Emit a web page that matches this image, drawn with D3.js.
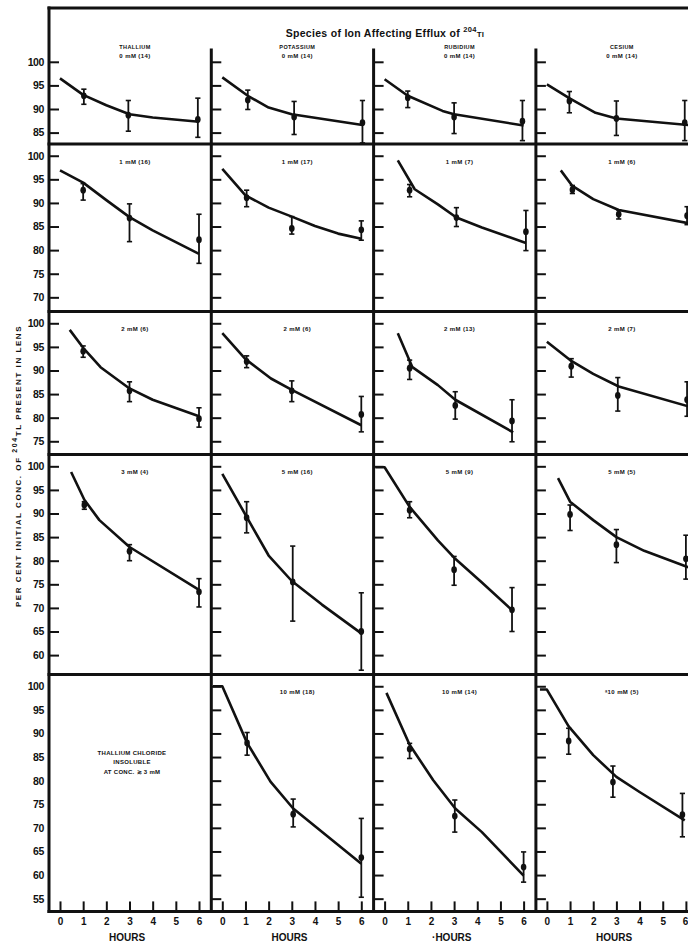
<!DOCTYPE html>
<html>
<head>
<meta charset="utf-8">
<script src="https://cdn.jsdelivr.net/npm/d3@7"></script>
<style>
body { margin: 0; background: #fff; }
svg { display: block; background: #fff; }
text { font-family: "Liberation Sans", Arial, sans-serif; font-weight: bold; fill: #111; }
.frame { stroke: #111; stroke-width: 3; stroke-linecap: square; }
.tick line { stroke: #111; stroke-width: 2; }
</style>
</head>
<body>
<svg id="chart"></svg>
<script>
// ---- data ----
const ions = ['THALLIUM', 'POTASSIUM', 'RUBIDIUM', 'CESIUM'];
const hourTicks = [0, 1, 2, 3, 4, 5, 6];

// one entry per row of panels (top to bottom)
const rowTicks = [
	[100, 95, 90, 85],
	[100, 95, 90, 85, 80, 75, 70],
	[100, 95, 90, 85, 80, 75],
	[100, 95, 90, 85, 80, 75, 70, 65, 60],
	[100, 95, 90, 85, 80, 75, 70, 65, 60, 55]
];
const rowLow = [82.6, 67, 72.2, 55.9, 52.3];
const rowHigh = 102.5;

// panels row by row, 4 per row; row 5 col 1 has no data
const panelLabels = [
	'0 mM (14)', '0 mM (14)', '0 mM (14)', '0 mM (14)',
	'1 mM (16)', '1 mM (17)', '1 mM (7)', '1 mM (6)',
	'2 mM (6)', '2 mM (6)', '2 mM (13)', '2 mM (7)',
	'3 mM (4)', '5 mM (16)', '5 mM (9)', '5 mM (5)',
	null, '10 mM (18)', '10 mM (14)', 'ᵃ10 mM (5)'
];
const noteLines = ['THALLIUM CHLORIDE', 'INSOLUBLE', 'AT CONC. ≳ 3 mM'];

const pointHours = [
	[1.03, 2.95, 5.95], [1.1, 3.1, 6.05], [1.0, 3.0, 5.95], [0.97, 3.0, 5.95],
	[1.0, 3.0, 6.0], [1.05, 3.0, 6.0], [1.08, 3.1, 6.1], [1.1, 3.1, 6.05],
	[1.0, 3.0, 6.0], [1.05, 3.0, 6.0], [1.08, 3.05, 5.5], [1.05, 3.06, 6.05],
	[1.05, 3.0, 6.0], [1.05, 3.04, 6.0], [1.08, 3.0, 5.5], [1.0, 3.0, 6.0],
	null, [1.07, 3.06, 6.0], [1.08, 3.03, 6.0], [0.94, 2.85, 5.85]
];
const pointMeans = [
	[92.8, 88.7, 87.8], [91.9, 88.3, 87.1], [92.4, 88.3, 87.4], [91.7, 88.0, 87.1],
	[92.7, 86.8, 82.2], [91.1, 84.6, 84.3], [92.7, 86.9, 83.9], [92.8, 87.6, 87.3],
	[94.1, 85.7, 79.8], [91.9, 85.7, 80.7], [90.5, 82.6, 79.3], [90.9, 84.7, 83.8],
	[91.8, 82.0, 73.4], [89.1, 75.5, 65.0], [90.7, 78.1, 69.6], [89.8, 83.4, 80.4],
	null, [88.0, 72.9, 63.7], [86.7, 72.5, 61.7], [88.4, 79.7, 72.8]
];
const errLow = [
	[91.0, 85.3, 84.0], [89.9, 84.6, 82.8], [90.3, 84.8, 83.3], [89.2, 84.4, 83.3],
	[90.6, 81.8, 77.2], [89.2, 83.4, 82.1], [91.3, 85.0, 79.9], [92.0, 86.6, 85.4],
	[92.8, 83.4, 78.0], [90.6, 83.4, 77.0], [88.1, 79.7, 74.9], [88.6, 81.4, 80.3],
	[90.9, 80.0, 70.2], [85.9, 67.2, 56.8], [89.1, 74.8, 65.0], [86.4, 79.6, 76.1],
	null, [85.4, 70.2, 55.3], [84.7, 69.1, 58.5], [85.6, 76.5, 68.1]
];
const errHigh = [
	[94.2, 91.8, 92.3], [94.0, 91.6, 91.8], [93.8, 91.3, 91.8], [93.7, 91.7, 91.8],
	[94.1, 89.8, 87.6], [92.7, 87.1, 86.2], [93.9, 89.0, 88.4], [93.7, 88.5, 89.2],
	[95.2, 87.6, 82.1], [93.1, 87.8, 84.5], [92.2, 85.5, 83.8], [92.5, 88.5, 87.6],
	[92.5, 83.4, 76.2], [92.5, 83.1, 73.2], [92.5, 80.9, 74.3], [91.8, 86.6, 85.4],
	null, [90.2, 76.1, 72.0], [87.9, 75.9, 64.9], [91.1, 83.1, 77.3]
];

// fitted curves
const curveHours = [
	[0, 1, 2, 3, 4, 6], [0, 1.1, 2, 3, 6.05], [0, 1, 2.5, 3, 6], [0, 1, 2.1, 3, 6.1],
	[0, 1, 2, 3, 4, 6], [0, 1, 2, 3, 4, 5, 6], [0.57, 1.3, 2.3, 3.1, 4.2, 6.1], [0.6, 1.1, 2, 3.1, 6.1],
	[0.42, 1, 1.75, 3, 4, 6], [0, 1, 2.1, 3, 6], [0.57, 1.2, 2.3, 3.05, 5.55], [0, 1, 2, 3.1, 6.1],
	[0.48, 1.05, 1.7, 3, 6], [0, 1.05, 2, 3, 4.3, 6], [-0.4, 0, 1.08, 2.3, 3.05, 4.2, 5.55], [0.48, 1, 2, 3, 4.2, 6.1],
	null, [-0.4, 0, 1.07, 2.08, 3.06, 6], [0.08, 1.08, 2.1, 3.05, 4.2, 6], [-0.3, 0, 0.94, 2, 3, 4, 5.95]
];
const curveValues = [
	[96.5, 93.0, 90.8, 88.9, 88.2, 87.3], [96.7, 92.8, 90.3, 88.9, 86.6], [96.3, 92.8, 89.6, 88.9, 86.5], [95.2, 92.2, 89.2, 88.0, 86.6],
	[96.9, 94.3, 90.6, 87.0, 84.2, 79.2], [97.2, 91.6, 89.0, 87.1, 85.1, 83.5, 82.4], [99.0, 92.9, 89.7, 86.9, 84.8, 81.5], [96.9, 93.6, 90.8, 88.5, 85.7],
	[98.6, 94.8, 90.7, 86.2, 83.8, 80.3], [97.9, 92.4, 88.3, 85.9, 78.4], [97.9, 90.7, 86.9, 83.8, 76.9], [96.1, 92.2, 89.3, 86.6, 82.4],
	[98.8, 92.9, 88.6, 82.9, 73.8], [98.4, 89.3, 81.1, 75.7, 70.7, 64.6], [99.8, 99.8, 91.4, 84.3, 80.4, 75.4, 69.3], [97.5, 92.5, 88.6, 85.0, 82.1, 78.6],
	null, [100, 100, 88.0, 79.8, 74.1, 62.4], [98.6, 87.6, 80.1, 74.1, 69.1, 59.9], [99.3, 99.3, 91.5, 85.4, 80.8, 77.6, 71.6]
];

// ---- layout ----
const W = 688, H = 944;
const left = 49, frameTop = 8, panelsTop = 50, colW = 162.3;
const pxPerUnit = 4.72;

const svg = d3.select('#chart').attr('width', W).attr('height', H);

// row positions stacked from the value range of each row
let yScales = [];
let rowTop = panelsTop;
rowLow.forEach(function(lo) {
	let h = (rowHigh - lo) * pxPerUnit;
	yScales.push(d3.scaleLinear().domain([lo, rowHigh]).range([rowTop + h, rowTop]));
	rowTop += h;
});
const bottom = rowTop;

let xScales = ions.map(function(d, c) {
	let x0 = left + c * colW;
	return d3.scaleLinear().domain([0, 6]).range([x0 + 11, x0 + 150]);
});
function colX(c) { return left + c * colW; }

let g = svg.append('g');

// title
let title = g.append('text')
	.attr('x', 385).attr('y', 37)
	.attr('text-anchor', 'middle')
	.style('font-size', '10.5px')
	.style('letter-spacing', '0.3px');
title.append('tspan').text('Species of Ion Affecting Efflux of ');
title.append('tspan').attr('dy', -5).style('font-size', '7.5px').text('204');
title.append('tspan').attr('dy', 5).style('font-size', '8px').text('Tl');

// ion names
g.selectAll('.ion')
	.data(ions)
	.enter()
	.append('text')
	.attr('class', 'ion')
	.attr('x', function(d, c) { return colX(c) + 86; })
	.attr('y', 49)
	.attr('text-anchor', 'middle')
	.style('font-size', '5.5px')
	.style('letter-spacing', '0.4px')
	.text(function(d) { return d; });

// y axis title
let ytitle = g.append('text')
	.attr('transform', 'translate(21,466) rotate(-90)')
	.attr('text-anchor', 'middle')
	.style('font-size', '8px')
	.style('letter-spacing', '1.55px');
ytitle.append('tspan').text('PER CENT INITIAL CONC. OF ');
ytitle.append('tspan').attr('dy', -4).style('font-size', '7px').text('204');
ytitle.append('tspan').attr('dy', 4).text('TL PRESENT IN LENS');

// y ticks and labels
yScales.forEach(function(y, r) {
	// labels on the left of the first column
	let lab = g.append('g')
		.attr('transform', 'translate(' + left + ',0)')
		.call(d3.axisLeft(y).tickValues(rowTicks[r]).tickSize(0).tickPadding(5));
	lab.select('.domain').remove();
	lab.selectAll('text').style('font-size', '10.5px').style('font-family', '"Liberation Sans", Arial, sans-serif').style('letter-spacing', '-0.4px');

	ions.forEach(function(d, c) {
		if (r == 4 && c == 0) return; // note panel has no tick marks
		let ax = g.append('g')
			.attr('transform', 'translate(' + colX(c) + ',0)')
			.call(d3.axisRight(y).tickValues(rowTicks[r]).tickSize(10).tickFormat(''));
		ax.select('.domain').remove();
	});
});

// hour ticks along the bottom
xScales.forEach(function(x, c) {
	let ax = g.append('g')
		.attr('transform', 'translate(0,' + bottom + ')')
		.call(d3.axisTop(x).tickValues(hourTicks).tickSize(10).tickFormat(''));
	ax.select('.domain').remove();

	let lab = g.append('g')
		.attr('transform', 'translate(0,' + bottom + ')')
		.call(d3.axisBottom(x).tickValues(hourTicks).tickSize(0).tickPadding(7).tickFormat(d3.format('d')));
	lab.select('.domain').remove();
	lab.selectAll('text').style('font-size', '10px').style('font-family', '"Liberation Sans", Arial, sans-serif');
	// last label of the cut-off column stays inside the page
	if (c == 3) lab.selectAll('text').filter(function(d) { return d == 6; }).attr('text-anchor', 'end').attr('x', 2);

	g.append('text')
		.attr('x', x(2.9))
		.attr('y', bottom + 30)
		.attr('text-anchor', 'middle')
		.style('font-size', '10px')
		.text(c == 2 ? '·HOURS' : 'HOURS');
});

// frame: top, left axis, column dividers, row boundaries, bottom
g.append('line').attr('class', 'frame').attr('x1', left).attr('x2', W + 5).attr('y1', frameTop).attr('y2', frameTop);
g.append('line').attr('class', 'frame').attr('x1', left).attr('x2', left).attr('y1', frameTop).attr('y2', bottom);
[1, 2, 3].forEach(function(c) {
	g.append('line').attr('class', 'frame').attr('x1', colX(c)).attr('x2', colX(c)).attr('y1', panelsTop).attr('y2', bottom);
});
yScales.forEach(function(y, r) {
	g.append('line').attr('class', 'frame')
		.attr('x1', left).attr('x2', W + 5)
		.attr('y1', y.range()[0]).attr('y2', y.range()[0]);
});

// panels
let line = d3.line();
panelLabels.forEach(function(label, i) {
	let r = Math.floor(i / 4), c = i % 4;
	let x = xScales[c], y = yScales[r];
	let p = g.append('g').attr('class', 'panel');

	if (label == null) {
		p.selectAll('text')
			.data(noteLines)
			.enter()
			.append('text')
			.attr('x', colX(c) + 83)
			.attr('y', function(d, k) { return y(85.5) + k * 9.5; })
			.attr('text-anchor', 'middle')
			.style('font-size', '6px')
			.style('letter-spacing', '0.3px')
			.text(function(d) { return d; });
		return;
	}

	p.append('text')
		.attr('x', colX(c) + 86)
		.attr('y', y(100) + (r == 0 ? -4 : 8))
		.attr('text-anchor', 'middle')
		.style('font-size', '6px')
		.style('letter-spacing', '0.4px')
		.text(label);

	let curve = curveHours[i].map(function(h, k) { return [x(h), y(curveValues[i][k])]; });
	p.append('path')
		.attr('d', line(curve))
		.attr('fill', 'none')
		.attr('stroke', '#111')
		.attr('stroke-width', 2.6)
		.attr('stroke-linejoin', 'round');

	let pts = pointHours[i].map(function(h, k) {
		return { h: h, m: pointMeans[i][k], lo: errLow[i][k], hi: errHigh[i][k] };
	});
	let pt = p.selectAll('.pt')
		.data(pts)
		.enter()
		.append('g')
		.attr('class', 'pt');
	pt.append('line')
		.attr('x1', function(d) { return x(d.h); }).attr('x2', function(d) { return x(d.h); })
		.attr('y1', function(d) { return y(d.lo); }).attr('y2', function(d) { return y(d.hi); })
		.attr('stroke', '#111').attr('stroke-width', 1.8);
	['lo', 'hi'].forEach(function(k) {
		pt.append('line')
			.attr('x1', function(d) { return x(d.h) - 2.6; }).attr('x2', function(d) { return x(d.h) + 2.6; })
			.attr('y1', function(d) { return y(d[k]); }).attr('y2', function(d) { return y(d[k]); })
			.attr('stroke', '#111').attr('stroke-width', 1.6);
	});
	pt.append('ellipse')
		.attr('cx', function(d) { return x(d.h); })
		.attr('cy', function(d) { return y(d.m); })
		.attr('rx', 2.8).attr('ry', 3.4)
		.attr('fill', '#111');
});
</script>
</body>
</html>
